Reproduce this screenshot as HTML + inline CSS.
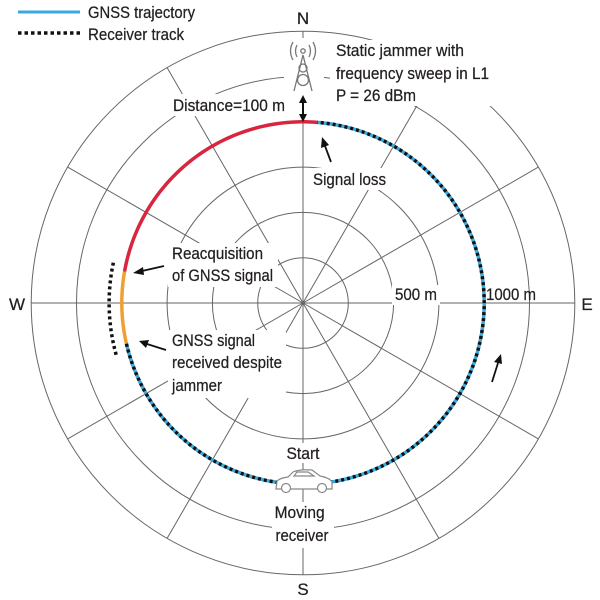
<!DOCTYPE html>
<html><head><meta charset="utf-8"><style>
html,body{margin:0;padding:0;background:#fff;}
svg{display:block;}
text{font-family:"Liberation Sans",sans-serif;fill:#231f20;stroke:#231f20;stroke-width:0.25;}
</style></head><body>
<svg id="chart" width="600" height="600" viewBox="0 0 600 600">
<g id="grid"></g>
<g id="labelbg"></g>
<g id="traj"></g>
<g id="anno">
  <line x1="18" y1="12" x2="80" y2="12" stroke="#3aa9e0" stroke-width="3"/>
  <line x1="18" y1="33" x2="80" y2="33" stroke="#111" stroke-width="3.5" stroke-dasharray="3.5,3"/>
  <text x="88" y="18" font-size="17" textLength="107" lengthAdjust="spacingAndGlyphs">GNSS trajectory</text>
  <text x="88" y="40" font-size="17" textLength="96" lengthAdjust="spacingAndGlyphs">Receiver track</text>
  <text x="303" y="24" font-size="17" text-anchor="middle">N</text>
  <text x="303" y="595" font-size="17" text-anchor="middle">S</text>
  <text x="17" y="310" font-size="17" text-anchor="middle">W</text>
  <text x="587" y="310" font-size="17" text-anchor="middle">E</text>
  <g fill="none" stroke="#777" stroke-width="1.3">
    <path d="M294 91 L303 55 L312 91"/>
    <circle cx="303" cy="51" r="2.2"/>
    <circle cx="303" cy="68" r="4"/>
    <circle cx="303" cy="80" r="5.5"/>
    <path d="M297 45 Q294 51 297 57 M309 45 Q312 51 309 57 M293 42 Q288 51 293 60 M313 42 Q318 51 313 60"/>
  </g>
  <g stroke="#111" stroke-width="2" fill="#111">
    <line x1="303" y1="101" x2="303" y2="116"/>
    <path d="M303 95 L299 103 L307 103 Z" stroke="none"/>
    <path d="M303 122 L299 114 L307 114 Z" stroke="none"/>
  </g>
  <text font-size="17">
    <tspan x="336" y="56" textLength="128" lengthAdjust="spacingAndGlyphs">Static jammer with</tspan>
    <tspan x="336" y="79" textLength="153" lengthAdjust="spacingAndGlyphs">frequency sweep in L1</tspan>
    <tspan x="336" y="101" textLength="80" lengthAdjust="spacingAndGlyphs">P = 26 dBm</tspan>
  </text>
  <text x="173" y="111" font-size="17" textLength="112" lengthAdjust="spacingAndGlyphs">Distance=100 m</text>
  <text x="313" y="185" font-size="17" textLength="73" lengthAdjust="spacingAndGlyphs">Signal loss</text>
  <text font-size="17">
    <tspan x="172" y="259" textLength="91" lengthAdjust="spacingAndGlyphs">Reacquisition</tspan>
    <tspan x="172" y="281" textLength="101" lengthAdjust="spacingAndGlyphs">of GNSS signal</tspan>
  </text>
  <text x="395" y="300" font-size="17" textLength="42" lengthAdjust="spacingAndGlyphs">500 m</text>
  <text x="486" y="300" font-size="17" textLength="50" lengthAdjust="spacingAndGlyphs">1000 m</text>
  <text font-size="17">
    <tspan x="172" y="346" textLength="83" lengthAdjust="spacingAndGlyphs">GNSS signal</tspan>
    <tspan x="172" y="368" textLength="110" lengthAdjust="spacingAndGlyphs">received despite</tspan>
    <tspan x="172" y="391" textLength="50" lengthAdjust="spacingAndGlyphs">jammer</tspan>
  </text>
  <text x="303" y="459" font-size="17" text-anchor="middle" textLength="33" lengthAdjust="spacingAndGlyphs">Start</text>
  <text font-size="17" text-anchor="middle">
    <tspan x="302" y="518" textLength="50" lengthAdjust="spacingAndGlyphs">Moving</tspan>
    <tspan x="302" y="541" textLength="53" lengthAdjust="spacingAndGlyphs">receiver</tspan>
  </text>
  <g fill="#fff" stroke="#888" stroke-width="1.2">
    <path d="M276 489 L277 481 Q280 478 288 477 L293 472 Q300 469 312 470 L320 476 Q330 478 332 482 L332 489 Z"/>
    <path d="M294 476 L297 472 L308 472 L314 476 Z"/>
    <circle cx="286" cy="488" r="4.5"/>
    <circle cx="322" cy="488" r="4.5"/>
  </g>
  <g stroke="#111" stroke-width="1.8" fill="#111">
    <line x1="331" y1="162" x2="325" y2="146"/><path d="M322 137 L321 148 L329 145 Z" stroke="none"/>
    <line x1="164" y1="266" x2="142" y2="271"/><path d="M133 273 L143 267 L144 275 Z" stroke="none"/>
    <line x1="166" y1="350" x2="147" y2="344"/><path d="M139 341 L149 340 L146 348 Z" stroke="none"/>
    <line x1="492" y1="382" x2="498" y2="363"/><path d="M501 354 L494 362 L502 364 Z" stroke="none"/>
  </g>
</g>
<script>
const cx = 303, cy = 303;
const ringDistances = [100, 200, 300, 400, 500, 600];
const pxPerUnit = 45.3 / 100;
const spokeAnglesDeg = [0, 30, 60, 90, 120, 150, 180, 210, 240, 270, 300, 330];
const trajectoryRadiusUnits = 400;
const segStartDeg = [85.5, 170, 193];
const segEndDeg = [170, 193, 445.5];
const segColor = ['#d7263d', '#f0a030', '#3aa9e0'];
const segDotted = [false, false, true];
const detourStartDeg = 168;
const detourEndDeg = 196;
const detourRadiusUnits = 428;
const ns = 'http://www.w3.org/2000/svg';
function rScale(u){ return u * pxPerUnit; }
function pt(r, deg){ const a = deg*Math.PI/180; return [cx + r*Math.cos(a), cy - r*Math.sin(a)]; }
function arcPath(r, a0, a1){
  let d = '', steps = Math.max(2, Math.ceil(Math.abs(a1-a0)));
  for (let i=0;i<=steps;i++){ const p = pt(r, a0 + (a1-a0)*i/steps); d += (i?'L':'M') + p[0].toFixed(2) + ' ' + p[1].toFixed(2); }
  return d;
}
const grid = document.getElementById('grid');
const outerR = rScale(ringDistances[ringDistances.length-1]);
spokeAnglesDeg.forEach(a=>{
  const p = pt(outerR, a);
  const l = document.createElementNS(ns,'line');
  l.setAttribute('x1',cx); l.setAttribute('y1',cy); l.setAttribute('x2',p[0]); l.setAttribute('y2',p[1]);
  l.setAttribute('stroke','#666'); l.setAttribute('stroke-width','1');
  
  
  grid.appendChild(l);
});
ringDistances.forEach(d=>{
  const c = document.createElementNS(ns,'circle');
  c.setAttribute('cx',cx); c.setAttribute('cy',cy); c.setAttribute('r',rScale(d));
  c.setAttribute('fill','none'); c.setAttribute('stroke','#666'); c.setAttribute('stroke-width','1');
  
  
  grid.appendChild(c);
});
const bgs = document.getElementById('labelbg');
[[170,94,120,22],[310,168,82,22],[168,243,110,44],[168,330,118,68],[392,285,48,20],[284,443,40,20],[272,502,62,46],[330,40,165,66],[284,38,40,58]].forEach(b=>{
  const r = document.createElementNS(ns,'rect');
  r.setAttribute('x',b[0]); r.setAttribute('y',b[1]); r.setAttribute('width',b[2]); r.setAttribute('height',b[3]); r.setAttribute('fill','#fff');
  
  
  bgs.appendChild(r);
});
const traj = document.getElementById('traj');
const tr = rScale(trajectoryRadiusUnits);
segStartDeg.forEach((s,i)=>{
  const p = document.createElementNS(ns,'path');
  p.setAttribute('d', arcPath(tr, s, segEndDeg[i]));
  p.setAttribute('fill','none'); p.setAttribute('stroke',segColor[i]); p.setAttribute('stroke-width','3.5');
  
  
  traj.appendChild(p);
  if (segDotted[i]){
    const q = document.createElementNS(ns,'path');
    q.setAttribute('d', arcPath(tr, s, segEndDeg[i]));
    q.setAttribute('fill','none'); q.setAttribute('stroke','#111'); q.setAttribute('stroke-width','3.5'); q.setAttribute('stroke-dasharray','3,3');
    
    
    traj.appendChild(q);
  }
});
const det = document.createElementNS(ns,'path');
det.setAttribute('d', arcPath(rScale(detourRadiusUnits), detourStartDeg, detourEndDeg));
det.setAttribute('fill','none'); det.setAttribute('stroke','#111'); det.setAttribute('stroke-width','3.5'); det.setAttribute('stroke-dasharray','3,3');


traj.appendChild(det);
</script>
</svg>
</body></html>
